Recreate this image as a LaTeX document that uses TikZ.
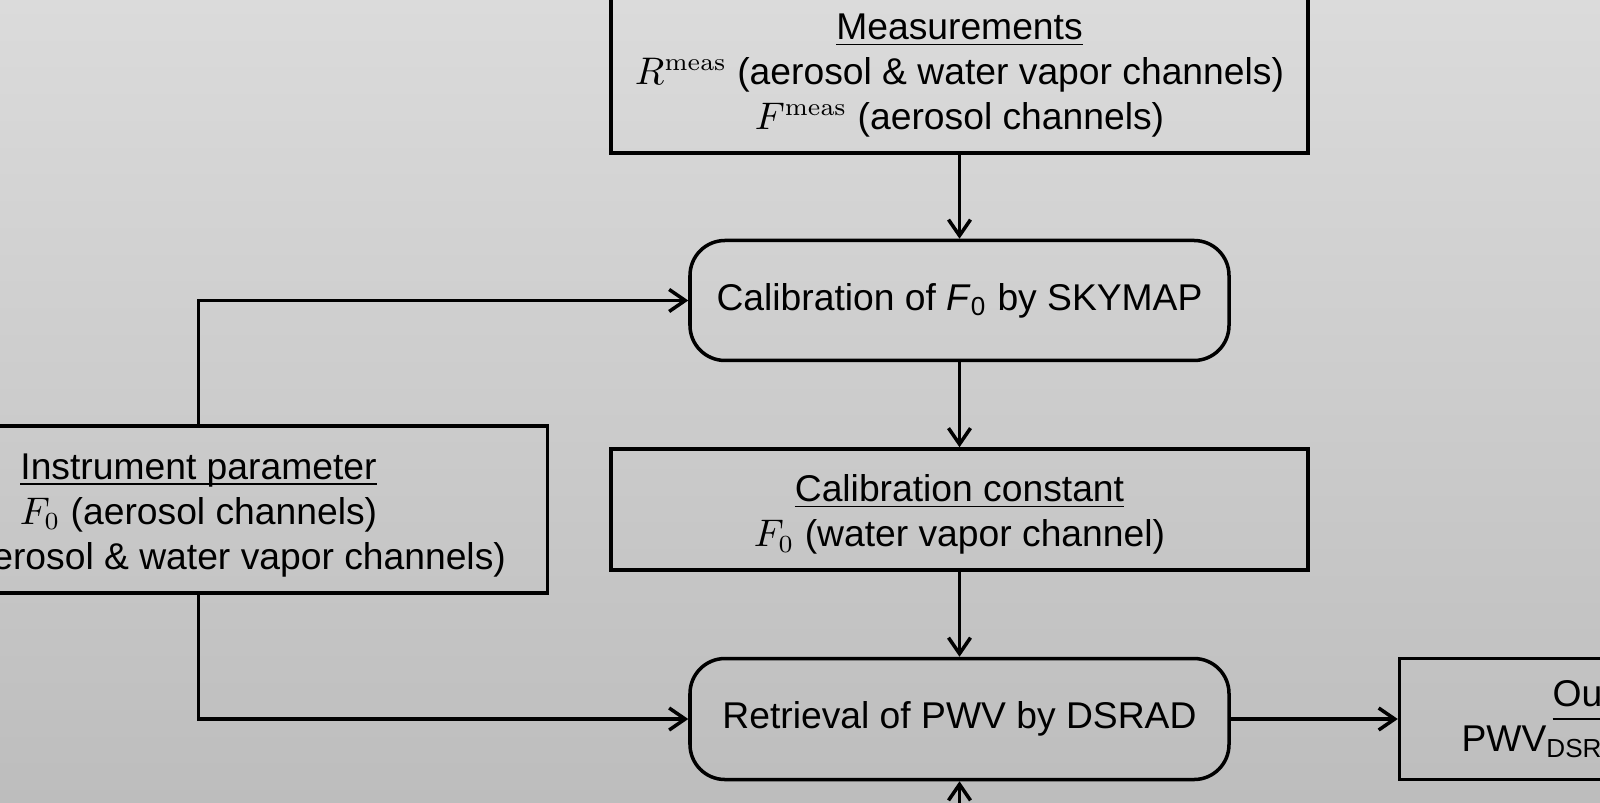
\documentclass[tikz,border=0pt]{standalone}
\usepackage[no-math]{fontspec}
\setmainfont{Liberation Sans}
\usetikzlibrary{matrix, arrows.meta}
\definecolor{bgtop}{RGB}{219,219,219}
\definecolor{bgbot}{RGB}{189,189,189}
\newcommand{\boxhead}[1]{\rule{0pt}{3.7mm}\underline{\smash{#1}}}
\tikzset{
  databox/.style = {draw, line width = 1pt, align = center, inner sep = 0pt, minimum height = 1.21cm},
  procbox/.style = {draw, line width = 1pt, rounded corners = .35cm, align = center, inner sep = 0pt, minimum width = 5.39cm, minimum height = 1.2cm},
  flow/.style = {line width = 1pt, -{Straight Barb[length = 1.6mm, width = 2.2mm]}},
}

\begin{document}
\begin{tikzpicture} [font = \fontsize{10.6}{12.8}\selectfont]
\useasboundingbox (0,0) rectangle (16,-8.03);
\clip (0,0) rectangle (16,-8.03);
\shade [top color = bgtop, bottom color = bgbot] (0,0) rectangle (16,-8.03);
\matrix (m) [column sep = .6cm, row sep = .62cm, matrix anchor = const.center] at (9.595,-5.095) {
 & \node[databox, minimum width = 6.97cm, minimum height = 1.66cm](meas){\boxhead{Measurements}\\ $R^{\mathrm{meas}}$ (aerosol \& water vapor channels)\\ $F^{\mathrm{meas}}$ (aerosol channels)}; &[.28cm] \\[.22cm]
 & \node[procbox](calib){Calibration of \textit{F}\textsubscript{0} by SKYMAP}; & \\
\node[databox, minimum width = 6.98cm, minimum height = 1.67cm](instr){\boxhead{Instrument parameter}\\ $F_0$ (aerosol channels)\\ $\Omega$\hspace*{.3cm} (aerosol \& water vapor channels)}; & \node[databox, minimum width = 6.97cm](const){\boxhead{Calibration constant}\\ $F_0$ (water vapor channel)}; & \\
 & \node[procbox, minimum height = 1.21cm](retr){Retrieval of PWV by DSRAD}; &[.28cm] \node[databox, minimum width = 4.18cm](out){\underline{Output}\\ PWV\textsubscript{DSRAD}\hspace*{1.16cm}}; \\
};
\coordinate (src) at ([yshift = -1.5cm]retr.south);
\draw [flow] (meas) -- (calib);
\draw [flow] (calib) -- (const);
\draw [flow] (const) -- (retr);
\draw [flow] (instr.north) |- (calib.west);
\draw [flow] (instr.south) |- (retr.west);
\draw [flow] (retr) -- (out);
\draw [flow] (src) -- (retr.south);
\end{tikzpicture}
\end{document}
